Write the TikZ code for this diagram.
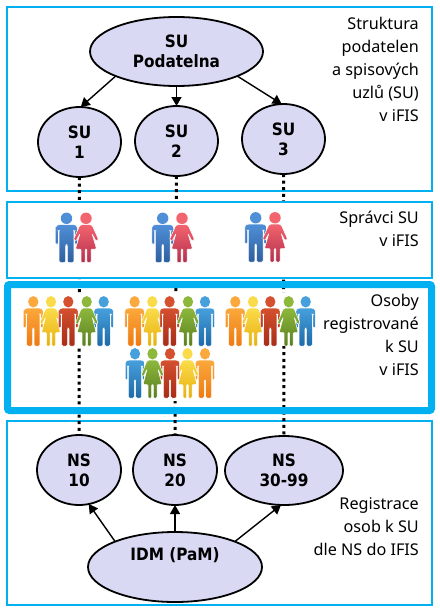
\documentclass[tikz,border=0pt]{standalone}
\usepackage{fontspec}
\setmainfont{Noto Sans}
\newfontfamily\heavyfont{DejaVu Sans Condensed}[BoldFont={DejaVu Sans Condensed Bold}]
\usetikzlibrary{shapes.geometric,arrows.meta}
\definecolor{frameblue}{HTML}{00B0F0}
\definecolor{ellfill}{HTML}{D9D9F3}
\definecolor{CouM1}{HTML}{4F8FD8}\definecolor{CouM2}{HTML}{2F5F9E}
\definecolor{CouW1}{HTML}{F2646E}\definecolor{CouW2}{HTML}{B5304E}
\definecolor{OrA}{HTML}{FBA83C}\definecolor{OrB}{HTML}{EE7A12}
\definecolor{YeA}{HTML}{FADC4A}\definecolor{YeB}{HTML}{E8B010}
\definecolor{ReA}{HTML}{D4502E}\definecolor{ReB}{HTML}{A82C18}
\definecolor{GrA}{HTML}{8DB83C}\definecolor{GrB}{HTML}{5A7F20}
\definecolor{BlA}{HTML}{46A0DC}\definecolor{BlB}{HTML}{1F6AA8}
\tikzset{
  panel/.style={draw=frameblue,line width=2pt},
  ell/.style={ellipse,draw=black,line width=1.8pt,fill=ellfill,inner sep=0pt,outer sep=0pt,
     align=center,font=\heavyfont\bfseries\fontsize{17}{20}\selectfont},
  arr/.style={line width=1.4pt,-{Triangle[length=9pt,width=10pt]}},
  dotline/.style={line width=3pt,dash pattern=on 3pt off 3.6pt},
  caption/.style={anchor=east,align=right,inner sep=0pt,font=\fontsize{16.2}{23}\selectfont},
  crowd/.style={xscale=.9},
  pics/man/.style 2 args={code={
    \fill[#1] (0,5.8) circle (5.7);
    \path[draw=white,line width=.5pt,top color=#1,bottom color=#2,rounded corners=1.3pt]
      (-7.5,12) -- (7.5,12) -- (10.8,13.5) -- (10.8,32) -- (8.1,32) -- (8.1,18) -- (7.4,18)
      -- (7.4,50) -- (.8,50) -- (.8,32) -- (-.8,32) -- (-.8,50) -- (-7.4,50)
      -- (-7.4,18) -- (-8.1,18) -- (-8.1,32) -- (-10.8,32) -- (-10.8,13.5) -- cycle;
  }},
  pics/woman/.style 2 args={code={
    \fill[#1] (0,5.8) circle (5.7);
    \path[draw=white,line width=.5pt,top color=#1,bottom color=#2,rounded corners=1pt]
      (-4.5,12) -- (4.5,12) -- (6.5,13.5) -- (12.5,27) -- (10,28.5) -- (6,21) -- (10.5,36.5)
      -- (5,36.5) -- (5,50) -- (.9,50) -- (.9,36.5) -- (-.9,36.5) -- (-.9,50)
      -- (-5,50) -- (-5,36.5) -- (-10.5,36.5) -- (-6,21) -- (-10,28.5) -- (-12.5,27)
      -- (-6.5,13.5) -- cycle;
  }},
}
\begin{document}
\begin{tikzpicture}[x=1pt,y=-1pt]
\useasboundingbox (0,0) rectangle (439,610);
\draw[panel] (7,7) rectangle (432,191);
\draw[panel] (7,421) rectangle (432,605);
% ellipses
\node[ell,minimum width=173pt,minimum height=69pt] (top) at (176.5,51.5) {SU\\Podatelna};
\node[ell,minimum width=83pt,minimum height=70pt] (su1) at (79.5,142) {SU\\1};
\node[ell,minimum width=83pt,minimum height=70pt] (su2) at (176.5,141) {SU\\2};
\node[ell,minimum width=83pt,minimum height=70pt] (su3) at (283.5,139) {SU\\3};
\node[ell,minimum width=84pt,minimum height=70pt] (ns10) at (79,470) {NS\\10};
\node[ell,minimum width=84pt,minimum height=70pt] (ns20) at (175,470) {NS\\20};
\node[ell,minimum width=118pt,minimum height=69pt] (ns30) at (284,470.5) {NS\\30-99};
\node[ell,minimum width=174pt,minimum height=70pt] (idm) at (175,567) {IDM (PaM)\\\strut};
% arrows
\draw[arr] (top.202) -- (su1.88);
\draw[arr] (top.south) -- (su2.north);
\draw[arr] (top.-22) -- (su3.93);
\draw[arr] (idm.157) -- (ns10.-74);
\draw[arr] (idm.north) -- (ns20.south);
\draw[arr] (idm.23) -- (ns30.-95);
% dotted links
\draw[dotline] (su1.south) -- (ns10.north);
\draw[dotline] (su2.south) -- (ns20.north);
\draw[dotline] (su3.south) -- (ns30.north);
% panels over the links
\draw[panel,fill=white] (7,202) rectangle (432,278);
\fill[white] (23,293) rectangle (115,346);
\fill[white] (124,293) rectangle (216,401);
\fill[white] (225,293) rectangle (317,346);
\draw[draw=frameblue,line width=7pt,rounded corners=2pt] (7.5,284.5) rectangle (431.5,410.5);
% couples
\foreach \xa/\xb/\ya in {66.5/86/212.5, 162.7/182/212.5, 255.7/275/212}{
  \pic at (\xa,\ya) {man={CouM1}{CouM2}};
  \pic at (\xb,\ya) {woman={CouW1}{CouW2}};
}
% crowds, first row
\foreach \dx/\yy in {0/296, 101.3/296, 202/296}{
  \pic[crowd] at (33.3+\dx,\yy) {man={OrA}{OrB}};
  \pic[crowd] at (51+\dx,\yy) {woman={YeA}{YeB}};
  \pic[crowd] at (68.3+\dx,\yy) {man={ReA}{ReB}};
  \pic[crowd] at (103.7+\dx,\yy) {man={BlA}{BlB}};
  \pic[crowd] at (86.7+\dx,\yy) {woman={GrA}{GrB}};
}
% crowd, second row
\pic[crowd] at (205,348) {man={OrA}{OrB}};
\pic[crowd] at (187.5,348) {woman={YeA}{YeB}};
\pic[crowd] at (135,348) {man={BlA}{BlB}};
\pic[crowd] at (170,348) {man={ReA}{ReB}};
\pic[crowd] at (152.5,348) {woman={GrA}{GrB}};
% captions
\node[caption] (c1) at (419,69) {Struktura\\podatelen\\a spisových\\uzlů (SU)\\v iFIS};
\node[caption] (c2) at (419,228.5) {Správci SU\\v iFIS};
\node[caption] (c3) at (419,334.5) {Osoby\\registrované\\k SU\\v iFIS};
\node[caption] (c4) at (419,527) {Registrace\\osob k SU\\dle NS do IFIS};
\end{tikzpicture}
\end{document}
